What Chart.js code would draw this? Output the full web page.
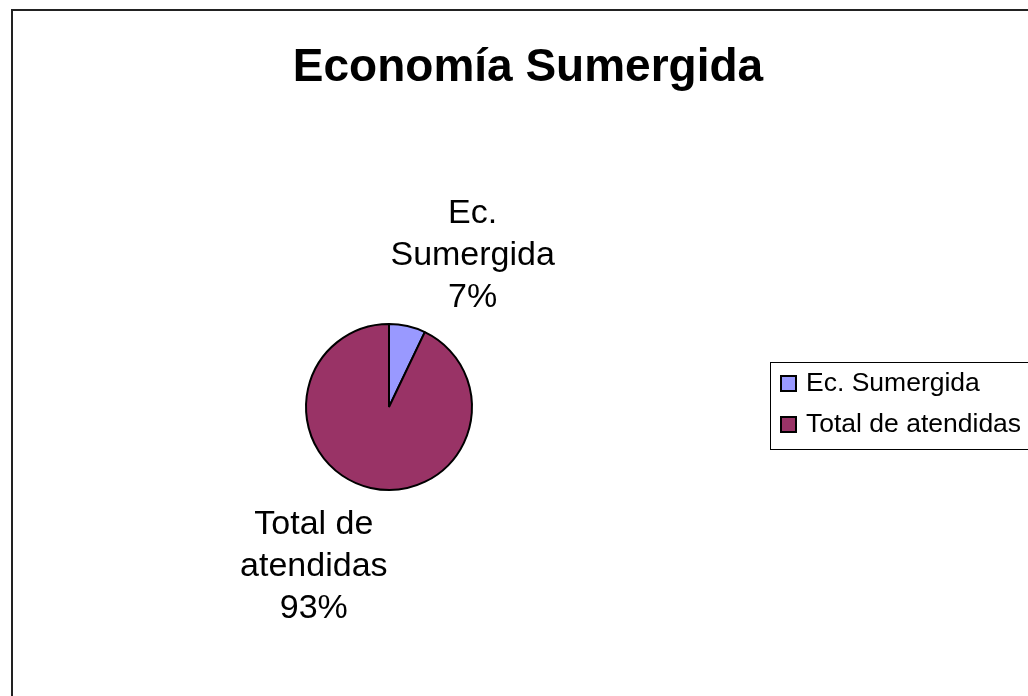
<!DOCTYPE html>
<html>
<head>
<meta charset="utf-8">
<script src="https://cdn.jsdelivr.net/npm/chart.js@4/dist/chart.umd.min.js"></script>
<style>
  html, body { margin: 0; padding: 0; background: #fff; }
  #wrap { position: relative; width: 1028px; height: 696px; }
</style>
</head>
<body>
<div id="wrap"><canvas id="chart" width="1028" height="696"></canvas></div>
<script>
const chartTitle = "Economía Sumergida";
const categories = ["Ec. Sumergida", "Total de atendidas"];
const labelLines = [["Ec.", "Sumergida"], ["Total de", "atendidas"]];
const shares = [7.1, 92.9];
const sliceColors = ["#9999FF", "#993366"];

const FONT = "'Liberation Sans', Arial, sans-serif";

// frame, title, slice labels and the boxed legend
const decorPlugin = {
    id: "decor",
    beforeDraw(chart) {
        const ctx = chart.ctx;
        ctx.save();
        ctx.fillStyle = "#fff";
        ctx.fillRect(0, 0, chart.width, chart.height);
        ctx.strokeStyle = "#222";
        ctx.lineWidth = 2;
        ctx.strokeRect(12, 10, chart.width + 20, chart.height + 20);
        ctx.fillStyle = "#000";
        ctx.font = "bold 46px " + FONT;
        ctx.textAlign = "center";
        ctx.textBaseline = "middle";
        ctx.fillText(chartTitle, 528, 68);
        ctx.restore();
    },
    afterDraw(chart) {
        const ctx = chart.ctx;
        const meta = chart.getDatasetMeta(0);
        const total = shares.reduce((a, b) => a + b, 0);
        ctx.save();
        ctx.fillStyle = "#000";
        ctx.font = "34px " + FONT;
        ctx.textAlign = "center";
        ctx.textBaseline = "alphabetic";
        const lineH = 42;
        meta.data.forEach((arc, i) => {
            const p = arc.getProps(["x", "y", "startAngle", "endAngle", "outerRadius"], true);
            const mid = (p.startAngle + p.endAngle) / 2;
            const ax = p.x + Math.cos(mid) * (p.outerRadius + 14);
            const ay = p.y + Math.sin(mid) * (p.outerRadius + 14);
            const lines = labelLines[i].concat([Math.round(shares[i] / total * 100) + "%"]);
            const w = Math.max(...lines.map(l => ctx.measureText(l).width));
            const cx = ax + Math.sign(Math.cos(mid)) * (w / 2 - 20);
            const h = lines.length * lineH;
            const top = Math.sin(mid) < 0 ? ay - h + 5 : ay;
            lines.forEach((l, j) => ctx.fillText(l, cx, top + (j + 1) * lineH - 10));
        });

        // legend
        ctx.strokeStyle = "#000";
        ctx.lineWidth = 1;
        ctx.strokeRect(770.5, 362.5, 300, 87);
        ctx.font = "26.5px " + FONT;
        ctx.textAlign = "left";
        ctx.textBaseline = "middle";
        categories.forEach((c, i) => {
            const y = 383 + i * 41;
            ctx.fillStyle = sliceColors[i];
            ctx.fillRect(781, y - 7, 15, 15);
            ctx.lineWidth = 2;
            ctx.strokeStyle = "#000";
            ctx.strokeRect(781, y - 7, 15, 15);
            ctx.fillStyle = "#000";
            ctx.fillText(c, 806, y + 1);
        });
        ctx.restore();
    }
};

new Chart(document.getElementById("chart"), {
    type: "pie",
    data: {
        labels: categories,
        datasets: [{
            data: shares,
            backgroundColor: sliceColors,
            borderColor: "#000",
            borderWidth: 2
        }]
    },
    options: {
        responsive: false,
        animation: false,
        radius: 83,
        layout: { padding: { left: 300, right: 550, top: 320, bottom: 202 } },
        plugins: {
            legend: { display: false },
            title: { display: false },
            tooltip: { enabled: false }
        }
    },
    plugins: [decorPlugin]
});
</script>
</body>
</html>
